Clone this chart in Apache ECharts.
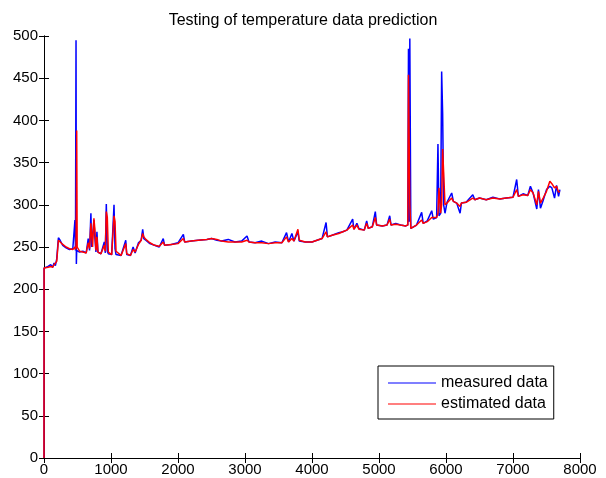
<!DOCTYPE html>
<html><head><meta charset="utf-8">
<script src="https://cdn.jsdelivr.net/npm/echarts@6/dist/echarts.min.js"></script>
<style>html,body{margin:0;padding:0;background:#fff}#c{width:606px;height:478px}</style>
</head><body><div id="c"></div>
<script>
const title = "Testing of temperature data prediction";
const seriesNames = ["measured data", "estimated data"];
const seriesColors = ["#0000ff", "#ff0000"];
const xTicks = [0,1000,2000,3000,4000,5000,6000,7000,8000];
const yTicks = [0,50,100,150,200,250,300,350,400,450,500];
const sampleIndex = [0,1,60,100,130,150,170,190,215,240,280,330,380,430,462,470,478,483,488,495,530,580,630,660,680,700,712,725,745,760,775,790,805,850,900,915,930,945,960,1010,1045,1060,1075,1150,1220,1235,1290,1330,1360,1410,1450,1473,1490,1520,1580,1650,1720,1780,1800,1900,2000,2080,2100,2200,2300,2430,2500,2580,2650,2750,2850,2950,3030,3060,3150,3250,3350,3450,3550,3620,3650,3700,3730,3790,3810,3900,4000,4075,4150,4210,4230,4300,4400,4460,4520,4607,4625,4670,4700,4780,4816,4840,4900,4945,4965,5050,5120,5160,5180,5250,5320,5400,5430,5440,5452,5460,5475,5500,5560,5637,5660,5720,5787,5810,5860,5880,5895,5920,5935,5950,5965,5985,6015,6085,6110,6160,6210,6230,6300,6400,6430,6500,6600,6700,6800,6900,7000,7055,7080,7150,7220,7260,7300,7355,7380,7410,7450,7500,7550,7580,7620,7650,7680,7700];
const measured = [0,225,227,229,226,231,228,236,261,258,252,249,247,248,282,246,495,230,246,245,244,245,243,260,246,290,250,250,282,260,244,268,244,242,256,243,301,245,242,241,300,248,241,240,258,241,240,250,243,255,258,271,260,258,254,252,250,260,252,253,255,265,256,257,258,259,260,258,257,259,256,257,263,256,255,257,254,256,255,267,256,266,257,268,257,256,256,258,260,279,262,264,267,268,270,283,271,278,272,270,281,272,274,292,276,275,276,287,276,278,276,275,276,485,280,497,272,274,276,291,278,281,293,283,285,372,287,290,458,408,300,290,303,314,304,302,290,302,303,312,306,308,306,309,307,308,309,330,310,313,311,322,314,295,318,296,305,318,322,320,308,323,310,318];
const estimated = [0,225,226,227,226,229,228,233,258,260,253,250,248,247,250,247,250,300,388,250,245,244,243,255,248,278,276,250,284,270,246,262,244,242,252,245,292,285,244,241,287,280,245,240,254,242,240,247,244,253,258,266,262,259,255,252,251,256,252,253,254,260,256,257,258,259,260,259,257,256,256,256,258,256,255,255,254,255,255,262,256,260,257,271,258,256,256,258,260,268,262,264,266,268,270,276,271,276,271,270,278,272,274,285,276,275,276,283,276,277,276,275,276,454,362,300,272,274,276,282,278,280,285,283,285,290,320,290,300,366,365,300,302,308,304,302,298,302,303,308,306,308,306,308,307,308,309,318,310,312,311,318,314,300,316,302,308,316,328,325,320,322,315,316];

const font = '"Liberation Sans", Arial, sans-serif';
const chart = echarts.init(document.getElementById('c'), null, {renderer: 'canvas'});
const mk = (arr) => sampleIndex.map((x, i) => [x, arr[i]]);
const axisLine = {show: true, lineStyle: {color: '#000', width: 1}};
const tickIn = {show: true, inside: true, length: 5, lineStyle: {color: '#000'}};
const plain = (v) => String(v);
chart.setOption({
  animation: false,
  backgroundColor: '#fff',
  title: {text: title, left: 'center', top: 8, textStyle: {fontFamily: font, fontSize: 16, fontWeight: 'normal', color: '#000'}},
  grid: {left: 44, right: 26, top: 36, bottom: 20},
  legend: {
    orient: 'vertical', left: 378, top: 366,
    data: seriesNames.map((n, i) => ({name: n, icon: 'path://M0,0H48V1H0Z', itemStyle: {color: seriesColors[i]}})),
    itemWidth: 48, itemHeight: 1.2, itemGap: 5,
    padding: [9, 6, 7, 10], borderColor: '#000', borderWidth: 1, backgroundColor: '#fff',
    textStyle: {fontFamily: font, fontSize: 16, color: '#000', lineHeight: 14, height: 14}
  },
  xAxis: [
    {type: 'value', min: 0, max: 8000, interval: 1000, axisLine: axisLine, axisTick: tickIn,
     axisLabel: {color: '#000', fontFamily: font, fontSize: 15, margin: 4, formatter: plain}, splitLine: {show: false}},
    {type: 'value', position: 'top', min: 0, max: 8000, interval: 1000, axisLine: axisLine, axisTick: tickIn,
     axisLabel: {show: false}, splitLine: {show: false}}
  ],
  yAxis: [
    {type: 'value', min: 0, max: 500, interval: 50, axisLine: axisLine, axisTick: tickIn,
     axisLabel: {color: '#000', fontFamily: font, fontSize: 15, margin: 6, formatter: plain}, splitLine: {show: false}},
    {type: 'value', position: 'right', min: 0, max: 500, interval: 50, axisLine: axisLine, axisTick: tickIn,
     axisLabel: {show: false}, splitLine: {show: false}}
  ],
  series: [
    {name: seriesNames[0], type: 'line', data: mk(measured), showSymbol: false, symbol: 'none',
     lineStyle: {color: seriesColors[0], width: 1.5}, itemStyle: {color: seriesColors[0]}},
    {name: seriesNames[1], type: 'line', data: mk(estimated), showSymbol: false, symbol: 'none',
     lineStyle: {color: seriesColors[1], width: 1.5}, itemStyle: {color: seriesColors[1]}}
  ]
});
</script></body></html>
